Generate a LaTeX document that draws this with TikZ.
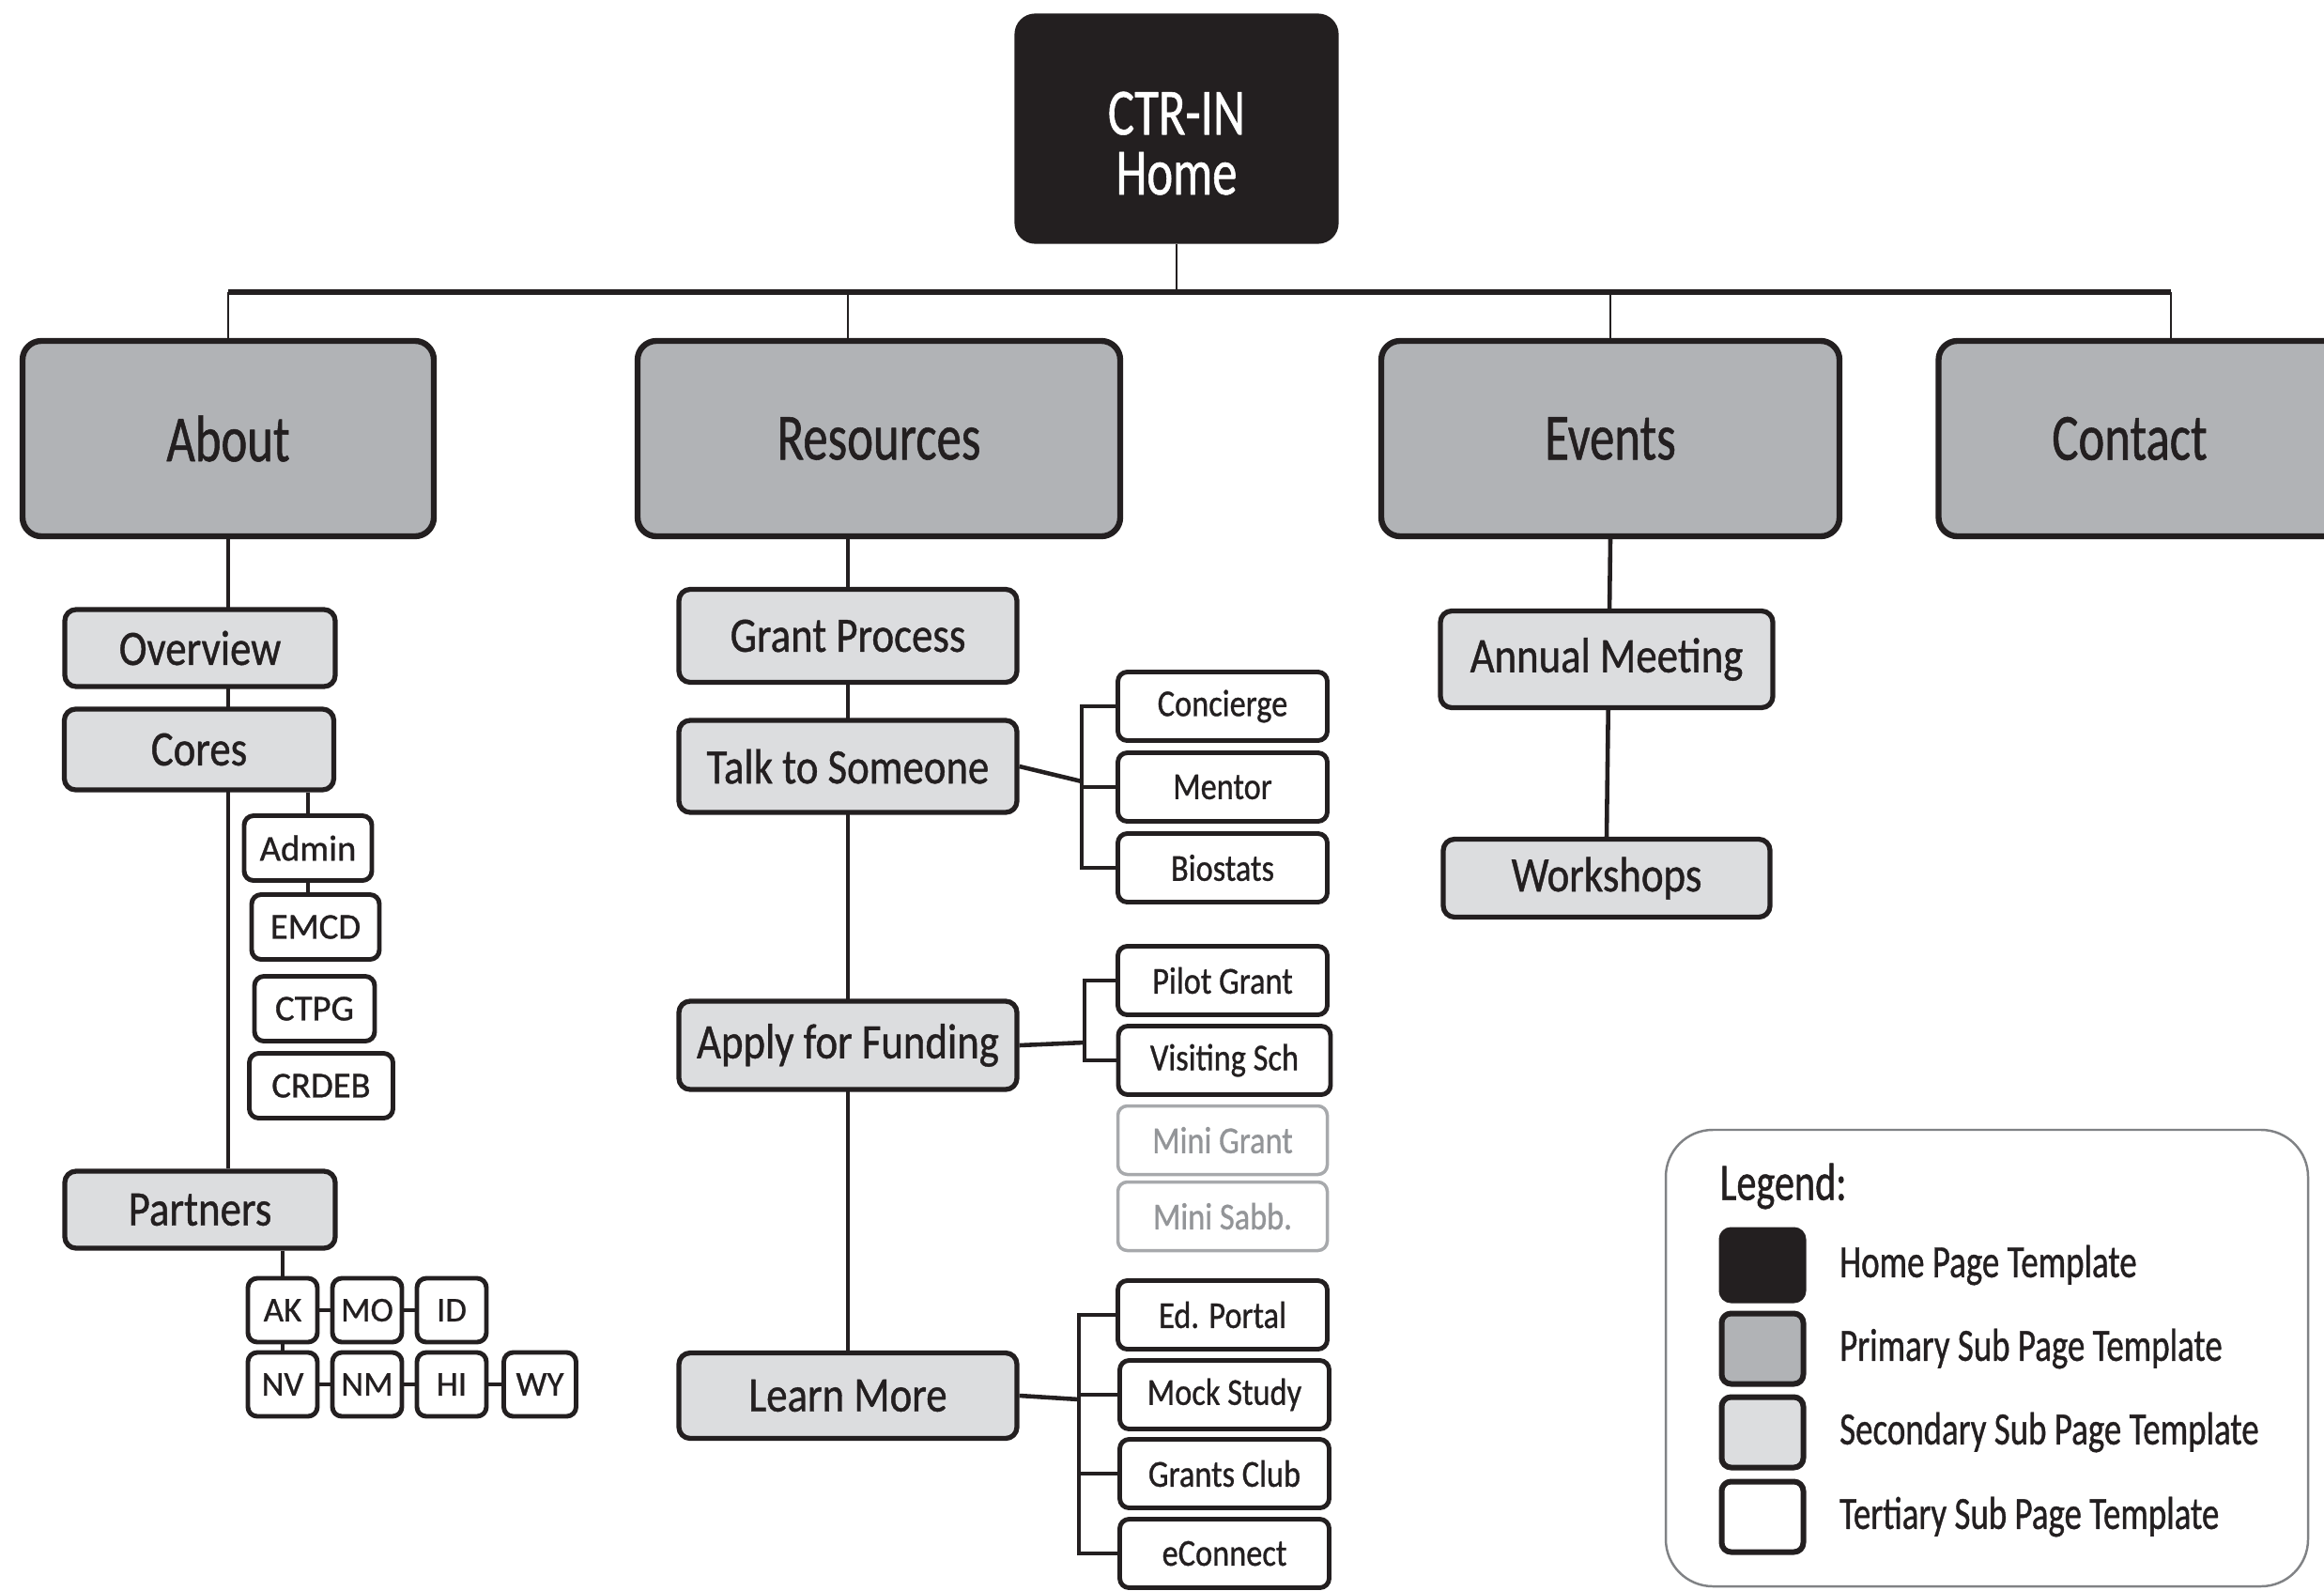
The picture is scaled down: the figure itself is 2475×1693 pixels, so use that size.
\documentclass[tikz,border=0pt]{standalone}
\usepackage{fontspec}
\setmainfont{Carlito}[FakeBold=0.8]
\newfontfamily\narrowfont{Carlito}[FakeStretch=0.75,FakeBold=0.8]
\newfontfamily\boxfont{Carlito}[FakeStretch=0.85,FakeBold=0.8]
\usetikzlibrary{positioning,backgrounds}
\definecolor{inkline}{HTML}{231F20}
\definecolor{homefill}{HTML}{231F20}
\definecolor{primfill}{HTML}{B1B3B6}
\definecolor{secfill}{HTML}{DCDDDF}
\definecolor{fadeline}{HTML}{A7A9AC}
\definecolor{fadetext}{HTML}{939598}
\definecolor{legline}{HTML}{808285}
\begin{document}
\begin{tikzpicture}[x=0.1mm,y=-0.1mm,line join=round,
  homebox/.style={draw=inkline,fill=homefill,text=white,line width=1.2pt,rounded corners=2mm,
    minimum width=34.1mm,minimum height=24.1mm,align=center,font=\narrowfont\fontsize{20}{19}\selectfont},
  primbox/.style={draw=inkline,fill=primfill,text=inkline,line width=1.8pt,rounded corners=2mm,
    minimum height=20.8mm,font=\narrowfont\fontsize{20}{22}\selectfont},
  secbox/.style={draw=inkline,fill=secfill,text=inkline,line width=1.5pt,rounded corners=1.2mm,
    inner sep=0pt,font=\boxfont\fontsize{15}{17}\selectfont},
  terbox/.style={draw=inkline,fill=white,text=inkline,line width=1.4pt,rounded corners=1mm,
    minimum width=22.3mm,minimum height=7.3mm,inner sep=0pt,font=\boxfont\fontsize{11.5}{13}\selectfont},
  fadebox/.style={terbox,draw=fadeline,text=fadetext,line width=1pt},
  corebox/.style={terbox,minimum height=6.9mm,font=\fontsize{11}{13}\selectfont},
  statebox/.style={terbox,minimum width=7.4mm,minimum height=6.8mm,font=\fontsize{10.5}{12}\selectfont},
  swatch/.style={draw=inkline,line width=1.7pt,rounded corners=1mm,minimum width=8.7mm,minimum height=7.5mm},
  legtext/.style={text=inkline,inner sep=0pt,font=\narrowfont\fontsize{14}{16}\selectfont},
  legframe/.style={draw=legline,line width=0.7pt,rounded corners=5mm},
  bus/.style={draw=inkline,line width=1.5pt},
  drop/.style={draw=inkline,line width=0.8pt},
  link/.style={draw=inkline,line width=1.3pt}]
  \useasboundingbox (0,0) rectangle (2475,1693);
  %%
  % Node: home
  \node[homebox] (home) at (1253,137) {\raisebox{-4.3mm}[0pt][0pt]{\begin{tabular}{@{}c@{}}CTR-IN\\[-0.3mm]Home\end{tabular}}};
  % Node: about
  \node[primbox,minimum width=43.8mm] (about) at (243,467) {About};
  % Node: res
  \node[primbox,minimum width=51.4mm] (res) at (936,467) {Resources};
  % Node: events
  \node[primbox,minimum width=48.8mm] (events) at (1715,467) {Events};
  % Node: contact
  \node[primbox,minimum width=49.5mm] (contact) at (2312,467) {\hspace*{-8.8mm}Contact};
  % Node: overview
  \node[secbox,minimum width=28.8mm,minimum height=8.2mm] (overview) at (213,690) {Overview};
  % Node: cores
  \node[secbox,minimum width=28.7mm,minimum height=8.6mm] (cores) at (212,798) {Cores};
  % Node: partners
  \node[secbox,minimum width=28.8mm,minimum height=8.2mm] (partners) at (213,1288) {Partners};
  % Node: admin
  \node[corebox,minimum width=13.6mm] (admin) at (328,903) {Admin};
  % Node: emcd
  \node[corebox,minimum width=13.6mm] (emcd) at (336,987) {EMCD};
  % Node: ctpg
  \node[corebox,minimum width=12.8mm] (ctpg) at (335,1074) {CTPG};
  % Node: crdeb
  \node[corebox,minimum width=15.3mm] (crdeb) at (342,1156) {CRDEB};
  % Node: ak
  \node[statebox] (ak) at (301,1395) {AK};
  % Node: mo
  \node[statebox] (mo) at (391,1395) {MO};
  % Node: id
  \node[statebox] (id) at (481,1395) {ID};
  % Node: nv
  \node[statebox] (nv) at (301,1474) {NV};
  % Node: nm
  \node[statebox] (nm) at (391,1474) {NM};
  % Node: hi
  \node[statebox] (hi) at (481,1474) {HI};
  % Node: wy
  \node[statebox,minimum width=7.7mm] (wy) at (575,1474) {WY};
  % Node: grant
  \node[secbox,minimum width=36mm,minimum height=9.9mm] (grant) at (903,677) {Grant Process};
  % Node: talk
  \node[secbox,minimum width=36mm,minimum height=9.8mm] (talk) at (903,816) {Talk to Someone};
  % Node: apply
  \node[secbox,minimum width=36mm,minimum height=9.4mm] (apply) at (903,1113) {Apply for Funding};
  % Node: learn
  \node[secbox,minimum width=36mm,minimum height=9.1mm] (learn) at (903,1486) {Learn More};
  % Node: conc
  \node[terbox] (conc) at (1302,752) {Concierge};
  % Node: ment
  \node[terbox] (ment) at (1302,838) {Mentor};
  % Node: bios
  \node[terbox] (bios) at (1302,924) {Biostats};
  % Node: pilot
  \node[terbox] (pilot) at (1302,1044) {Pilot Grant};
  % Node: visit
  \node[terbox,minimum width=22.6mm] (visit) at (1304,1129) {Visiting Sch};
  % Node: minigrant
  \node[fadebox] (minigrant) at (1302,1214) {Mini Grant};
  % Node: minisabb
  \node[fadebox] (minisabb) at (1302,1295) {Mini Sabb.};
  % Node: ed
  \node[terbox] (ed) at (1302,1400) {Ed. Portal};
  % Node: mock
  \node[terbox] (mock) at (1304,1485) {Mock Study};
  % Node: grants
  \node[terbox] (grants) at (1304,1569) {Grants Club};
  % Node: econ
  \node[terbox] (econ) at (1304,1654) {eConnect};
  % Node: annual
  \node[secbox,minimum width=35.4mm,minimum height=10.3mm] (annual) at (1711,702) {Annual Meeting};
  % Node: workshops
  \node[secbox,minimum width=34.8mm,minimum height=8.3mm] (workshops) at (1711,935) {Workshops};
  %%
  % Node: legend
  \node[legframe,minimum width=68.4mm,minimum height=48.6mm] (legend) at (2116,1446) {};
  \node[legtext,anchor=west,font=\narrowfont\fontsize{16}{18}\selectfont] (legtitle) at (1831,1263) {Legend:};
  \node[swatch,fill=homefill] (swhome) at (1877,1347) {};
  \node[swatch,fill=primfill] (swprim) at (1877,1436) {};
  \node[swatch,fill=secfill] (swsec) at (1877,1525) {};
  \node[swatch,fill=white] (swter) at (1877,1615) {};
  \node[legtext,right=3.5mm of swhome] (lhome) {Home Page Template};
  \node[legtext,right=3.5mm of swprim] (lprim) {Primary Sub Page Template};
  \node[legtext,right=3.5mm of swsec] (lsec) {Secondary Sub Page Template};
  \node[legtext,right=3.5mm of swter] (lter) {Tertiary Sub Page Template};
  %%
  \begin{scope}[on background layer]
    \coordinate (bus) at (1252,311);
    \coordinate (tbk) at (1152,832);
    \coordinate (abk) at (1155,1110);
    \coordinate (lbk) at (1149,1490);
    % Edge: home -> bus
    \draw[bus] (bus -| about.north) -- (bus -| contact.north);
    \draw[drop] (home.south) -- (home.south |- bus);
    % Edge: bus -> about, res, events, contact
    \draw[drop] (bus -| about.north) -- (about.north);
    \draw[drop] (bus -| learn.north) -- (res.north -| learn.north);
    \draw[drop] (bus -| events.north) -- (events.north);
    \draw[drop] (bus -| contact.north) -- (contact.north);
    % Edge: about -> overview, cores, partners
    \draw[link] (about.south) -- (about.south |- partners.north);
    % Edge: cores -> admin -> emcd
    \draw[link] (admin.north |- cores.south) -- (admin.north);
    \draw[link] (admin.south) -- (admin.south |- emcd.north);
    % Edge: partners -> states
    \draw[link] (ak.north |- partners.south) -- (ak.north);
    \draw[link] (ak.east) -- (mo.west);
    \draw[link] (mo.east) -- (id.west);
    \draw[link] (ak.south) -- (nv.north);
    \draw[link] (nv.east) -- (nm.west);
    \draw[link] (nm.east) -- (hi.west);
    \draw[link] (hi.east) -- (wy.west);
    % Edge: res -> grant, talk, apply, learn
    \draw[link] (res.south -| learn.north) -- (learn.north);
    % Edge: talk -> conc, ment, bios
    \draw[link] (talk.east) -- (tbk);
    \draw[link] (conc.west) -- (conc.west -| tbk) -- (bios.west -| tbk) -- (bios.west);
    \draw[link] (ment.west) -- (ment.west -| tbk);
    % Edge: apply -> pilot, visit
    \draw[link] (apply.east) -- (abk);
    \draw[link] (pilot.west) -- (pilot.west -| abk) -- (visit.west -| abk) -- (visit.west);
    % Edge: learn -> ed, mock, grants, econ
    \draw[link] (learn.east) -- (lbk);
    \draw[link] (ed.west) -- (ed.west -| lbk) -- (econ.west -| lbk) -- (econ.west);
    \draw[link] (mock.west) -- (mock.west -| lbk);
    \draw[link] (grants.west) -- (grants.west -| lbk);
    % Edge: events -> annual -> workshops
    \draw[link] (events.south) -- (workshops.north);
  \end{scope}
  %%
\end{tikzpicture}
\end{document}
